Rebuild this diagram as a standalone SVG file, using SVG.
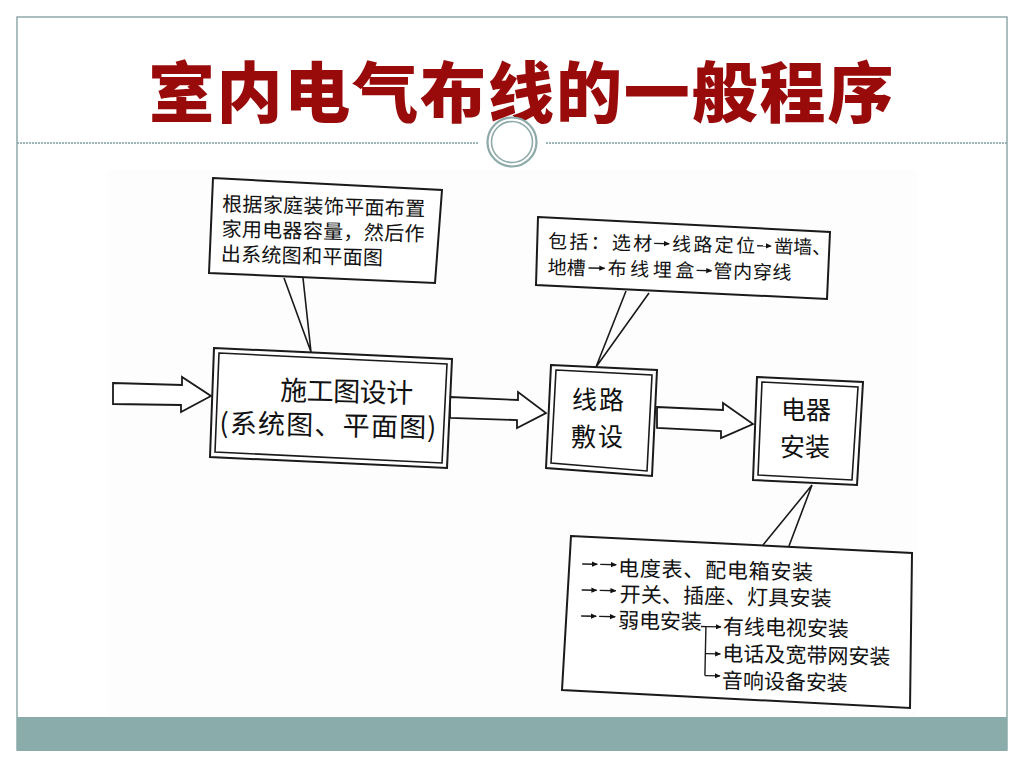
<svg xmlns="http://www.w3.org/2000/svg" width="1024" height="768" viewBox="0 0 1024 768">
<defs>
<style>
.frame{fill:none;stroke:#8ea9a9;stroke-width:1.5}
.title{font-family:"Noto Sans CJK SC","Noto Sans",sans-serif;font-weight:900;font-size:66px;fill:#990a0a}
.box{fill:#fff;stroke:#1a1a1a;stroke-width:2}
.inner{fill:none;stroke:#1a1a1a;stroke-width:1.6}
.t{font-family:"Noto Sans CJK SC","Liberation Serif",sans-serif;fill:#111}
.s19{font-size:19px}
.s20{font-size:20px}
.s21{font-size:21px}
.s25{font-size:25px}
.s27{font-size:27px}
.blk{fill:#fff;stroke:#1a1a1a;stroke-width:1.8;stroke-linejoin:miter}
.ptr{fill:none;stroke:#1a1a1a;stroke-width:1.6}
.br{fill:none;stroke:#1a1a1a;stroke-width:1.4}
.sa{fill:none;stroke:#1a1a1a;stroke-width:1.4;marker-end:url(#ah)}
</style>
<marker id="ah" viewBox="0 0 8 8" refX="7" refY="4" markerWidth="6" markerHeight="6" orient="auto" markerUnits="userSpaceOnUse">
<path d="M0,0.5 L8,4 L0,7.5 z" fill="#111"/>
</marker>
</defs>

<rect x="0" y="0" width="1024" height="768" fill="#ffffff"/>
<rect class="frame" x="17" y="17" width="990" height="733"/>
<rect x="108" y="170" width="809" height="547" fill="#fdfdfd"/>
<rect x="17" y="717" width="990" height="34" fill="#8aacab"/>

<text class="title" x="521" y="117" text-anchor="middle" textLength="745" lengthAdjust="spacing">室内电气布线的一般程序</text>

<g id="separator">
<line x1="17" y1="143" x2="478" y2="143" stroke="#7e9e9e" stroke-width="1.5" stroke-dasharray="2,1"/>
<line x1="546" y1="143" x2="1007" y2="143" stroke="#7e9e9e" stroke-width="1.5" stroke-dasharray="2,1"/>
<circle cx="512" cy="142" r="24.5" fill="#fff" stroke="#8ea9a9" stroke-width="2.2"/>
<circle cx="512" cy="142" r="20.5" fill="none" stroke="#8ea9a9" stroke-width="1.6"/>
</g>

<g id="connectors">
<polygon class="blk" points="113,383 182,385 182,377 211,396 181,412 181,405 113,404"/>
<polygon class="blk" points="450,397 518,400 518,392 546,413 517,428 517,420 450,418"/>
<polygon class="blk" points="657,407 723,410 723,403 753,424 721,438 721,431 657,428"/>
<polyline class="ptr" points="284,278 311,352 303,278"/>
<polyline class="ptr" points="626,291 596,367 649,293"/>
<polyline class="ptr" points="763,545 812,485 789,546"/>
</g>

<g id="node-callout-design">
<polygon class="box" points="213,178 442,190 435,283 209,273"/>
<g transform="rotate(1.4 222 211)">
<text class="t s20" x="222" y="211" textLength="203" lengthAdjust="spacing">根据家庭装饰平面布置</text>
<text class="t s20" x="222" y="236" textLength="203" lengthAdjust="spacing">家用电器容量，然后作</text>
<text class="t s20" x="222" y="261" textLength="162" lengthAdjust="spacing">出系统图和平面图</text>
</g>
</g>

<g id="node-design">
<polygon class="box" points="214,348 452,359 447,468 210,457"/>
<polygon class="inner" points="219,353 447,364 442,463 215,452"/>
<g transform="rotate(1.2 280 400)">
<text class="t s27" x="280" y="400" textLength="133" lengthAdjust="spacing">施工图设计</text>
<text class="t s27" x="220" y="434" textLength="217" lengthAdjust="spacing">(系统图、平面图)</text>
</g>
</g>

<g id="node-wiring">
<polygon class="box" points="551,365 657,370 652,476 546,468"/>
<polygon class="inner" points="556,370 652,375 647,471 551,463"/>
<text class="t s25" x="598" y="409" text-anchor="middle" textLength="52" lengthAdjust="spacing">线路</text>
<text class="t s25" x="597" y="446" text-anchor="middle" textLength="52" lengthAdjust="spacing">敷设</text>
</g>

<g id="node-install">
<polygon class="box" points="757,377 863,382 857,485 753,480"/>
<polygon class="inner" points="762,382 858,387 852,480 758,475"/>
<text class="t s25" x="806" y="419" text-anchor="middle" textLength="50" lengthAdjust="spacing">电器</text>
<text class="t s25" x="805" y="456" text-anchor="middle" textLength="50" lengthAdjust="spacing">安装</text>
</g>

<g id="node-callout-wiring">
<polygon class="box" points="538,217 830,232 827,299 536,285"/>
<g transform="rotate(1.3 548 248)">
<text class="t s19" x="548" y="248" textLength="104" lengthAdjust="spacing">包括：选材</text>
<line class="sa" x1="654" y1="241" x2="669" y2="241"/>
<text class="t s19" x="672" y="248" textLength="83" lengthAdjust="spacing">线路定位</text>
<line class="sa" x1="757" y1="241" x2="771" y2="241"/>
<text class="t s19" x="774" y="248">凿墙、</text>
<text class="t s19" x="548" y="274" textLength="38" lengthAdjust="spacing">地槽</text>
<line class="sa" x1="589" y1="267" x2="605" y2="267"/>
<text class="t s19" x="608" y="274" textLength="87" lengthAdjust="spacing">布线埋盒</text>
<line class="sa" x1="697" y1="267" x2="712" y2="267"/>
<text class="t s19" x="714" y="274" textLength="78" lengthAdjust="spacing">管内穿线</text>
</g>
</g>

<g id="node-callout-install">
<polygon class="box" points="571,536 912,553 910,708 562,690"/>
<g transform="rotate(1.2 582 574)">
<line class="sa" x1="582" y1="564" x2="597" y2="564"/>
<line class="sa" x1="600" y1="564" x2="616" y2="564"/>
<text class="t s21" x="618" y="575" textLength="195" lengthAdjust="spacing">电度表、配电箱安装</text>
<line class="sa" x1="582" y1="590" x2="597" y2="590"/>
<line class="sa" x1="600" y1="590" x2="616" y2="590"/>
<text class="t s21" x="620" y="601" textLength="212" lengthAdjust="spacing">开关、插座、灯具安装</text>
<line class="sa" x1="582" y1="616" x2="597" y2="616"/>
<line class="sa" x1="600" y1="616" x2="616" y2="616"/>
<text class="t s21" x="619" y="627" textLength="84" lengthAdjust="spacing">弱电安装</text>
<path class="br" d="M702,624 H707 V673"/>
<line class="sa" x1="707" y1="624" x2="722" y2="624"/>
<line class="sa" x1="707" y1="651" x2="722" y2="651"/>
<line class="sa" x1="707" y1="673" x2="722" y2="673"/>
<text class="t s21" x="724" y="631" textLength="126" lengthAdjust="spacing">有线电视安装</text>
<text class="t s21" x="724" y="658" textLength="168" lengthAdjust="spacing">电话及宽带网安装</text>
<text class="t s21" x="724" y="685" textLength="126" lengthAdjust="spacing">音响设备安装</text>
</g>
</g>
</svg>
